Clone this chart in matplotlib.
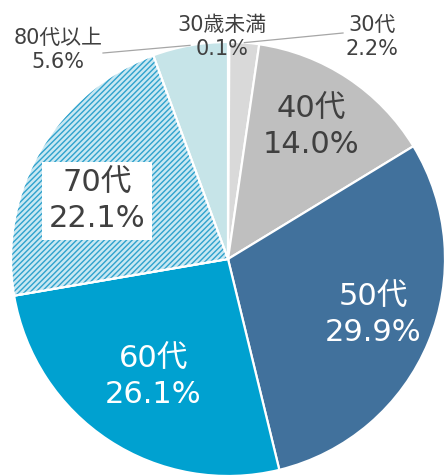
import numpy as np
import matplotlib.pyplot as plt
from matplotlib.patches import Wedge

plt.rcParams['font.family'] = ['DejaVu Sans', 'Noto Sans CJK JP']
plt.rcParams['hatch.linewidth'] = 1.0

# data (clockwise from the top)
labels = ['30歳未満', '30代', '40代', '50代', '60代', '70代', '80代以上']
shares = [0.1, 2.2, 14.0, 29.9, 26.1, 22.1, 5.6]
colors = ['#EDEDED', '#D9D9D9', '#BFBFBF', '#41719C', '#00A1D0', '#C9E8F2', '#C6E4E8']

W, H = 444, 475
cx, cy, r = 228, 259, 217   # pixel coords, y from the top


def py(y):
    return H - y


fig = plt.figure(figsize=(W / 100, H / 100), dpi=100)
ax = fig.add_axes([0, 0, 1, 1])

wedges, _ = ax.pie(shares, colors=colors, startangle=90, counterclock=False,
                   center=(cx, py(cy)), radius=r, frame=True,
                   wedgeprops=dict(edgecolor='white', linewidth=1.6))
ax.set_xlim(0, W)
ax.set_ylim(0, H)
ax.set_aspect('equal')
ax.axis('off')

# hatch on the 70代 slice
w70 = wedges[5]
hatch = Wedge(w70.center, w70.r, w70.theta1, w70.theta2, facecolor='none',
              edgecolor='#2FA2CD', linewidth=0, hatch='//////', zorder=w70.get_zorder() + 0.1)
ax.add_patch(hatch)
edge = Wedge(w70.center, w70.r, w70.theta1, w70.theta2, facecolor='none',
             edgecolor='white', linewidth=1.6, zorder=w70.get_zorder() + 0.2)
ax.add_patch(edge)

# mid angles of slices
cum = np.cumsum([0] + shares)
mid = [90 - 360 * (cum[i] + shares[i] / 2) / 100 for i in range(len(shares))]


def edge_pt(i):
    a = np.deg2rad(mid[i])
    return cx + r * np.cos(a), py(cy) + r * np.sin(a)


dark = '#404040'
# inner labels
inner = {2: (311, 127, dark), 3: (373, 315, 'white'), 4: (153, 377, 'white')}
for i, (x, y, c) in inner.items():
    ax.text(x, py(y), f'{labels[i]}\n{shares[i]:.1f}%', ha='center', va='center',
            fontsize=22, color=c, linespacing=1.3, zorder=5)

ax.text(97, py(201), f'{labels[5]}\n{shares[5]:.1f}%', ha='center', va='center',
        fontsize=22, color=dark, linespacing=1.3, zorder=5,
        bbox=dict(boxstyle='square,pad=0.22', facecolor='white', edgecolor='none'))

# outer labels
outer = {0: (222, 37), 1: (372, 37), 6: (58, 50)}
for i, (x, y) in outer.items():
    ax.text(x, py(y), f'{labels[i]}\n{shares[i]:.1f}%', ha='center', va='center',
            fontsize=15, color=dark, linespacing=1.3, zorder=5)

# leader lines
ex, ey = edge_pt(1)
ax.plot([343, ex], [py(33), ey], color='#A6A6A6', lw=0.9, zorder=4)
ex, ey = edge_pt(6)
ax.plot([103, ex], [py(53), ey], color='#A6A6A6', lw=0.9, zorder=4)

fig.savefig('out.png', dpi=100)
